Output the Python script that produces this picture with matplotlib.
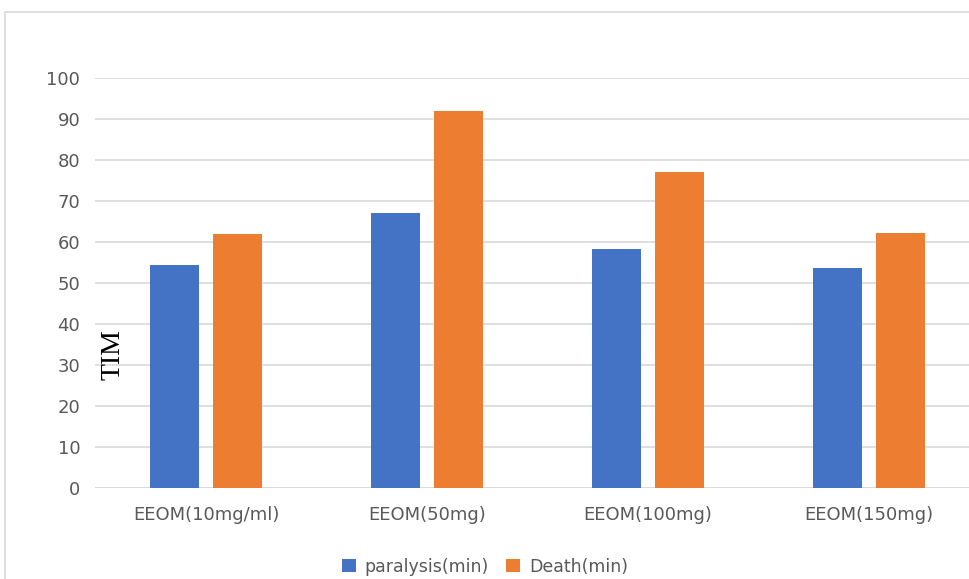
import matplotlib.pyplot as plt
from matplotlib.patches import Rectangle
import numpy as np

categories = ["EEOM(10mg/ml)", "EEOM(50mg)", "EEOM(100mg)", "EEOM(150mg)"]
paralysis = [54.4, 67, 58.3, 53.7]
death = [62, 92, 77, 62.2]
yticks = [0, 10, 20, 30, 40, 50, 60, 70, 80, 90, 100]

blue = "#4472C4"
orange = "#ED7D31"
gray = "#595959"

fig = plt.figure(figsize=(9.7, 5.79), dpi=100)
# outer chart frame (cut off at right and bottom like the screenshot)
fig.patches.append(Rectangle((5/970, -0.1), 1.1, (579-12)/579 + 0.1,
                             transform=fig.transFigure, fill=False,
                             edgecolor="#D9D9D9", linewidth=1.2))

ax = fig.add_axes([95.5/970, (579-488)/579, 1 - 95.5/970, (488-78)/579])
x = np.arange(len(categories))
w = 0.222
off = 0.143
ax.bar(x - off, paralysis, w, color=blue, label="paralysis(min)", zorder=3)
ax.bar(x + off, death, w, color=orange, label="Death(min)", zorder=3)

ax.set_xlim(-0.5, -0.5 + (970-95.5)/221)
ax.set_ylim(0, 100)
ax.set_yticks(yticks)
ax.yaxis.grid(True, color="#D9D9D9", linewidth=1.2, zorder=0)
for s in ax.spines.values():
    s.set_visible(False)
ax.tick_params(axis="both", length=0, colors=gray, labelsize=13)
ax.tick_params(axis="y", pad=11)
ax.tick_params(axis="x", pad=13)
ax.set_xticks(x)
ax.set_xticklabels(categories)
ax.axhline(0, color="#D9D9D9", linewidth=1.2, zorder=2)

ax.text(0.0205, 0.325, "TIM", transform=ax.transAxes, rotation=90,
        family="Liberation Serif", fontsize=20, color="black",
        ha="center", va="center")

fig.legend(loc="lower center", bbox_to_anchor=(0.5, -0.012), ncol=2, frameon=False,
           fontsize=12.5, labelcolor=gray, handlelength=0.8, handleheight=0.8,
           handletextpad=0.5, columnspacing=1.0, borderaxespad=0.2)

fig.savefig("out.png", dpi=100)
